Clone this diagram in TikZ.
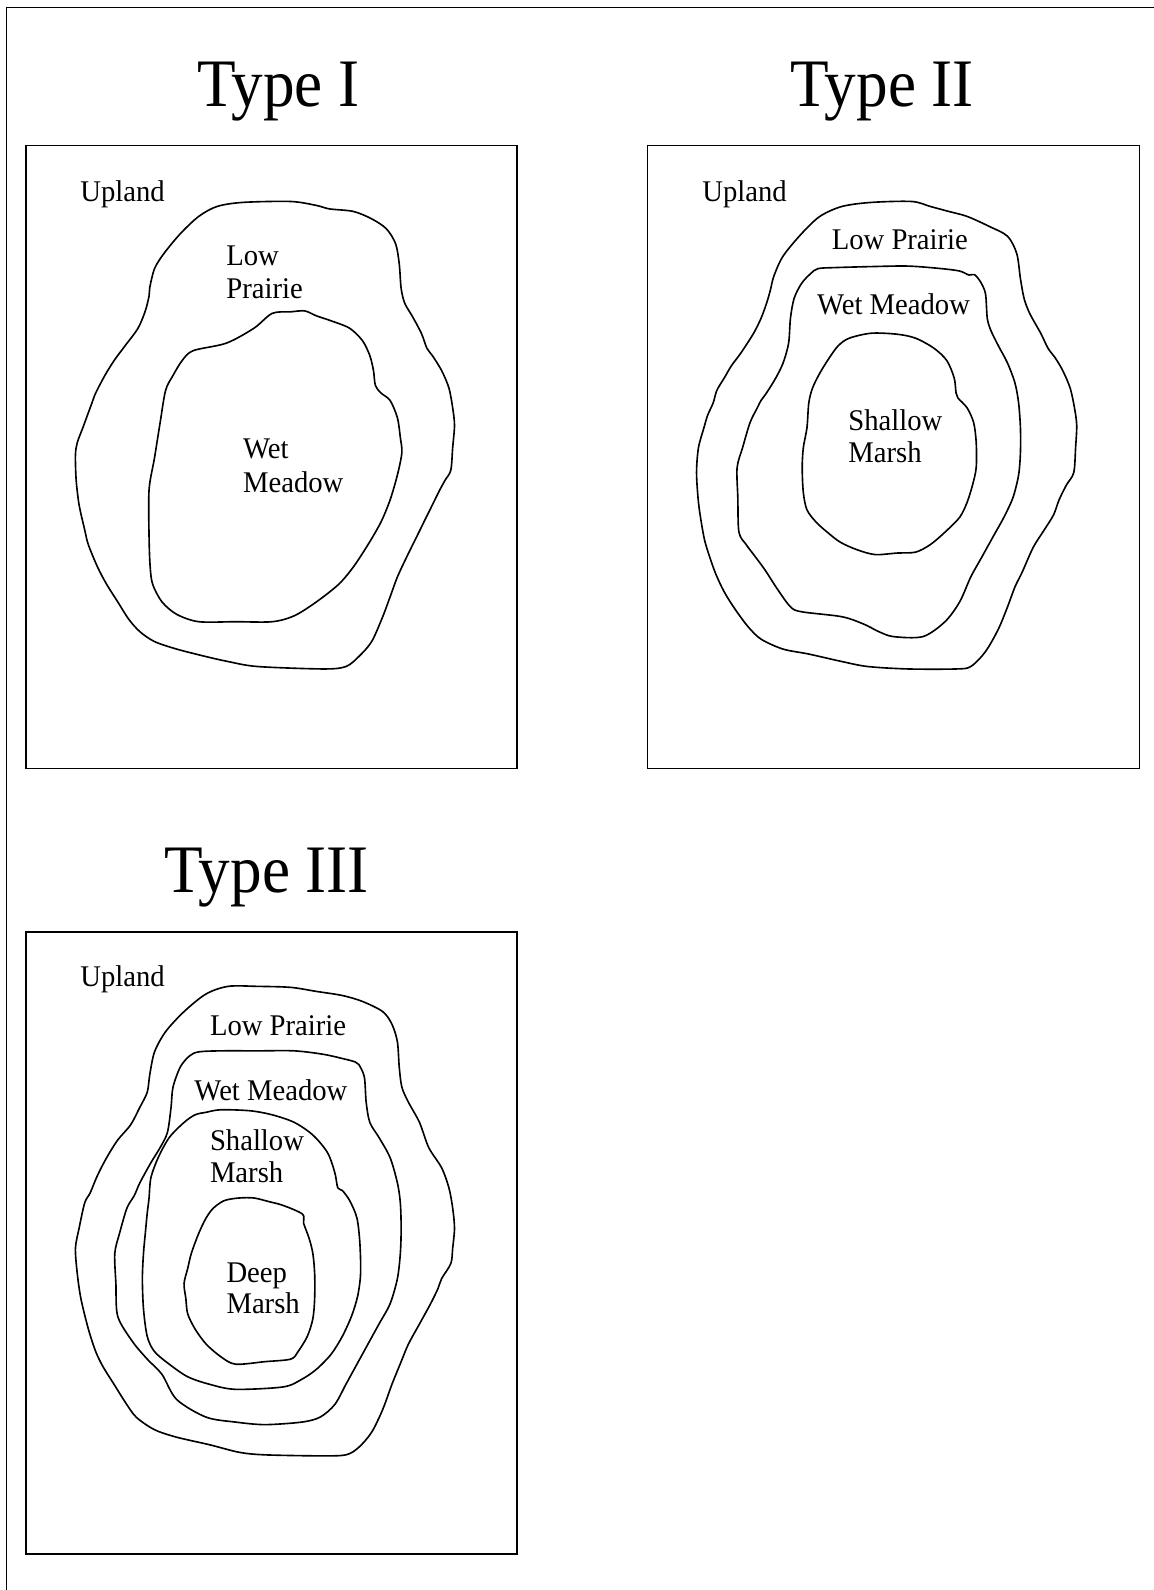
\documentclass[tikz,border=0pt]{standalone}
\usepackage{fontspec}
\setmainfont{Liberation Serif}
\newfontfamily\labfont[FakeStretch=0.955]{Liberation Serif}
\newfontfamily\titfont[FakeStretch=0.93]{Liberation Serif}
\begin{document}
\begin{tikzpicture}[x=1pt,y=-1pt,
  frame/.style={line width=1.5pt},
  curve/.style={line width=1.6pt, line join=round},
  lab/.style={anchor=base west, inner sep=0pt, font=\labfont\fontsize{29.6}{32}\selectfont},
  tit/.style={anchor=base, inner sep=0pt, font=\titfont\fontsize{67}{70}\selectfont}]
\useasboundingbox (0,0) rectangle (1138,1568);
% outer frame (left and top sides visible)
\draw[frame] (6.2,1568) -- (6.2,7.4) -- (1138,7.4);
% titles
\node[tit] (t1) at (274.5,105.5) {Type I};
\node[tit] (t2) at (870,105.5) {Type II};
\node[tit] (t3) at (263.1,880.6) {Type III};
% boxes
\draw[frame] (25.4,143.7) rectangle (509.9,757.8);
\draw[frame] (638.7,143.7) rectangle (1123.5,757.8);
\draw[frame] (25.4,919) rectangle (509.9,1532.6);

% ---------- Type I ----------
\draw[curve] plot[smooth cycle, tension=0.5] coordinates {
(147.7,283.5) (152.4,264.9) (161.5,250.2) (177.8,230.5) (196,213.4) (214.1,203.6)
(239.5,199.6) (286.7,198.7) (312.1,202.6) (324.8,206) (348.4,208.5) (366.5,215.8)
(381,225.6) (390.1,240.3) (393.7,260) (395.6,284.5) (399.2,299.2) (406.4,311.5)
(415.5,328.6) (421,343.4) (426.4,350.7) (435.5,365.4) (442.7,382.6) (446.4,402.2)
(448.2,419.4) (446.4,441.5) (444.6,463.5) (439.1,473.3) (433.7,483.1) (426.4,497.9)
(419.1,512.6) (411.9,527.3) (401,549.4) (391.9,569) (384.7,588.6) (377.4,608.2)
(366.5,632.7) (353.8,647.5) (341.1,657.3) (319.4,659.7) (254,657.3) (225,652.4)
(203.2,647.5) (174.2,640.1) (152.4,632.7) (137.9,622.9) (127,610.7) (116.1,593.5)
(105.2,576.3) (96.2,559.2) (87.1,537.1) (83.5,522.4) (78,497.9) (75.1,473.3)
(74.4,448.8) (76.2,436.5) (81.7,421.8) (85.3,412) (90.7,397.3) (94.4,387.5)
(103.4,370.3) (112.5,355.6) (123.4,340.9) (136.1,323.7) (143.3,306.6) (147,291.8)};
\draw[curve] plot[smooth cycle, tension=0.5] coordinates {
(190.5,345.8) (223.2,338.4) (250.4,323.7) (268.5,309) (286.7,307.5) (300.5,306.6)
(312.1,311.5) (326.6,316.4) (344.8,323.7) (357.5,336) (364.7,350.7) (368.3,365.4)
(370.2,380.1) (375.6,387.5) (384.7,394.9) (391.9,412) (394.8,431.6) (396.3,446.4)
(391.9,468.4) (384.7,493) (375.6,515) (362.9,537.1) (348.4,559.2) (333.9,576.3)
(312.1,593.5) (290.3,607.2) (268.5,613.1) (232.3,613.1) (196,613.1) (174.2,605.8)
(159.7,593.5) (150.6,576.3) (148.1,559.2) (147,529.7) (147,483.1) (152.4,451.3)
(157.9,416.9) (163.3,385) (170.6,370.3) (179.6,355.6)};
\node[lab] (u1) at (79,198.6) {Upland};
\node[lab] (lp1a) at (223,262.3) {Low};
\node[lab] (lp1b) at (223,294.3) {Prairie};
\node[lab] (wm1a) at (239.5,452.2) {Wet};
\node[lab] (wm1b) at (239.5,485.6) {Meadow};

% ---------- Type II ----------
\draw[curve] plot[smooth cycle, tension=0.5] coordinates {
(759.5,286.9) (763.2,272.2) (772.2,252.6) (790.4,230.5) (808.5,213.4) (830.3,203.6)
(859.3,199.6) (899.2,198.7) (917.4,203.6) (935.5,208.5) (953.7,213.4) (975.4,223.2)
(993.6,233) (1002.7,250.2) (1006.3,274.7) (1009.9,294.3) (1015.4,309) (1026.3,328.6)
(1033.5,343.4) (1040.8,353.2) (1048,365.4) (1055.3,382.6) (1059.6,402.2) (1061.8,419.4)
(1060.7,441.5) (1058.9,466) (1051.7,478.2) (1044.4,493) (1039,507.7) (1029.9,522.4)
(1019,539.6) (1008.1,564.1) (1000.9,578.8) (993.6,598.4) (984.5,620.5) (971.8,642.6)
(957.3,657.3) (942.8,659.7) (895.6,659.7) (855.7,657.3) (830.3,652.4) (797.6,645)
(772.2,640.1) (750.5,630.3) (737.7,618) (725,600.9) (714.2,583.7) (705.1,564.1)
(696,537.1) (692.4,519.9) (688.8,495.4) (686.9,466) (688.8,441.5) (694.2,421.8)
(697.8,409.6) (703.3,397.3) (706.9,385) (714.2,372.8) (721.4,360.5) (730.5,348.3)
(743.2,328.6) (750.5,313.9) (755.9,299.2)};
\draw[curve] plot[smooth cycle, tension=0.5] coordinates {
(806.7,264.9) (823,263.9) (859.3,262.9) (895.6,262.4) (928.3,264.9) (946.4,267.3)
(955.5,271.2) (960.9,270.8) (966.4,277.1) (971.8,289.4) (973.6,313.9) (977.3,326.2)
(984.5,340.9) (993.6,358.1) (1000.9,377.7) (1004.5,397.3) (1006.3,421.8) (1006.3,446.4)
(1004.5,468.4) (999,490.5) (990,510.1) (979.1,529.7) (968.2,549.4) (957.3,569)
(946.4,593.5) (931.9,613.1) (910.1,627.8) (881.1,627.8) (866.6,622.9) (852.1,615.6)
(830.3,608.2) (790.4,603.3) (779.5,598.4) (766.8,581.2) (754.1,561.6) (743.2,546.9)
(735.9,537.1) (728.7,524.8) (727.6,490.5) (726.9,461.1) (732.3,441.5) (739.6,416.9)
(746.8,402.2) (750.5,394.9) (755.9,387.5) (765,372.8) (772.2,358.1) (777.7,338.4)
(779.5,313.9) (783.1,294.3) (790.4,279.6) (799.4,269.8)};
\draw[curve] plot[smooth cycle, tension=0.5] coordinates {
(837.5,333.5) (859.3,328.6) (884.7,329.6) (902.9,333.5) (921,343.4) (933.7,355.6)
(941,372.8) (942.8,387.5) (944.6,392.4) (953.7,402.2) (960.2,416.9) (962.7,436.5)
(962.7,461.1) (959.1,478.2) (953.7,495.4) (946.4,510.1) (931.9,524.8) (917.4,537.1)
(902.9,544.5) (884.7,545.4) (863,546.9) (844.8,542) (828.5,534.6) (815.8,524.8)
(804.9,515) (795.8,502.8) (792.2,485.6) (791.1,461.1) (792.2,441.5) (795.8,421.8)
(797.6,397.3) (801.3,382.6) (808.5,367.9) (817.6,353.2) (826.7,340.9)};
\node[lab] (u2) at (692.4,198.7) {Upland};
\node[lab] (lp2) at (820.1,246.2) {Low Prairie};
\node[lab] (wm2) at (805.6,310.5) {Wet Meadow};
\node[lab] (sm2a) at (836.5,424.3) {Shallow};
\node[lab] (sm2b) at (836.5,456.2) {Marsh};

% ---------- Type III ----------
\draw[curve] plot[smooth cycle, tension=0.5] coordinates {
(147.7,1059.7) (152.4,1037.3) (163.3,1017.4) (181.5,997.6) (203.2,980.2) (225,972.7)
(254,972.7) (286.7,973.7) (312.1,977.7) (337.5,981.7) (357.5,987.6) (377.4,997.6)
(386.5,1010) (391.9,1027.4) (393.7,1052.2) (396.3,1072.1) (402.8,1087) (413.7,1106.9)
(422.8,1131.7) (435.5,1151.6) (442.7,1171.4) (446.4,1191.3) (448.2,1211.2) (446.4,1231)
(444.6,1246) (435.5,1260.9) (431.9,1270.8) (424.6,1285.7) (413.7,1305.6) (402.8,1325.4)
(395.6,1342.8) (386.5,1365.2) (377.4,1390) (366.5,1412.4) (353.8,1427.3) (341.1,1434.7)
(315.7,1435.7) (261.3,1434.7) (235.9,1432.2) (206.9,1424.8) (174.2,1417.3) (152.4,1409.9)
(134.3,1397.5) (123.4,1382.6) (112.5,1365.2) (101.6,1347.8) (94.4,1332.9) (87.1,1310.5)
(79.8,1280.7) (76.2,1255.9) (74.4,1231) (78,1211.2) (83.5,1186.3) (88.9,1176.4)
(96.2,1159) (105.2,1141.6) (116.1,1124.2) (128.8,1109.3) (137.9,1092) (145.2,1077.1)};
\draw[curve] plot[smooth cycle, tension=0.5] coordinates {
(196,1037.3) (217.7,1036.3) (254,1036.3) (290.3,1036.3) (319.4,1039.8) (341.1,1044.7)
(350.2,1047.2) (353.8,1049.7) (359.3,1062.1) (361.1,1087) (364.7,1106.9) (373.8,1121.8)
(384.7,1141.6) (391.9,1166.5) (394.8,1186.3) (395.6,1211.2) (394.8,1236) (391.9,1260.9)
(384.7,1285.7) (373.8,1305.6) (362.9,1325.4) (352,1345.3) (341.1,1365.2) (330.2,1385)
(315.7,1397.5) (297.6,1402.4) (261.3,1404.9) (232.3,1402.4) (203.2,1397.5) (174.2,1380.1)
(159.7,1355.3) (145.2,1340.3) (130.6,1322.9) (116.1,1298.1) (114.3,1265.8) (113.2,1236)
(117.9,1216.2) (125.2,1191.3) (132.5,1178.9) (137.9,1166.5) (148.8,1146.6) (157.9,1131.7)
(165.1,1116.8) (168.7,1091.9) (170.6,1072.1) (177.8,1052.2) (186.9,1041.3)};
\draw[curve] plot[smooth cycle, tension=0.5] coordinates {
(203.2,1096.9) (217.7,1094.4) (246.8,1095.4) (268.5,1099.4) (290.3,1106.9) (308.5,1119.3)
(323,1136.7) (330.2,1156.5) (333.1,1171.4) (337.5,1173.9) (344.8,1183.9) (352,1201.2)
(354.9,1226.1) (355.6,1255.9) (352.7,1278.2) (346.6,1298.1) (337.5,1318) (326.6,1335.4)
(312.1,1350.3) (297.6,1360.2) (279.4,1367.7) (232.3,1370.1) (206.9,1365.2) (185.1,1357.7)
(166.9,1345.3) (152.4,1332.9) (145.2,1318) (141.5,1290.7) (140.4,1260.9) (141.5,1236)
(143.3,1216.2) (145.2,1196.3) (147,1181.4) (148.8,1161.5) (156,1141.6) (166.9,1121.8)
(181.5,1106.9) (192.3,1099.4)};
\draw[curve] plot[smooth cycle, tension=0.5] coordinates {
(221.4,1183.9) (235.9,1181.4) (250.4,1181.4) (264.9,1184.9) (279.4,1188.8) (298.3,1197.3)
(299.4,1206.2) (304.8,1221.1) (308.5,1236) (310.3,1255.9) (310.3,1280.7) (308.5,1300.6)
(303,1318) (293.9,1332.9) (286.7,1340.3) (261.3,1342.8) (232.3,1345.3) (217.7,1337.9)
(203.2,1325.4) (192.3,1310.5) (185.1,1295.6) (183.3,1280.7) (181.5,1265.8) (185.1,1250.9)
(188.7,1236) (196,1216.2) (203.2,1201.2) (210.5,1191.3)};
\node[lab] (u3) at (79.1,972.7) {Upland};
\node[lab] (lp3) at (206.9,1021.4) {Low Prairie};
\node[lab] (wm3) at (191.6,1085.5) {Wet Meadow};
\node[lab] (sm3a) at (206.9,1134.2) {Shallow};
\node[lab] (sm3b) at (206.9,1166.5) {Marsh};
\node[lab] (dm3a) at (223.2,1264.8) {Deep};
\node[lab] (dm3b) at (223.2,1295.6) {Marsh};
\end{tikzpicture}
\end{document}
